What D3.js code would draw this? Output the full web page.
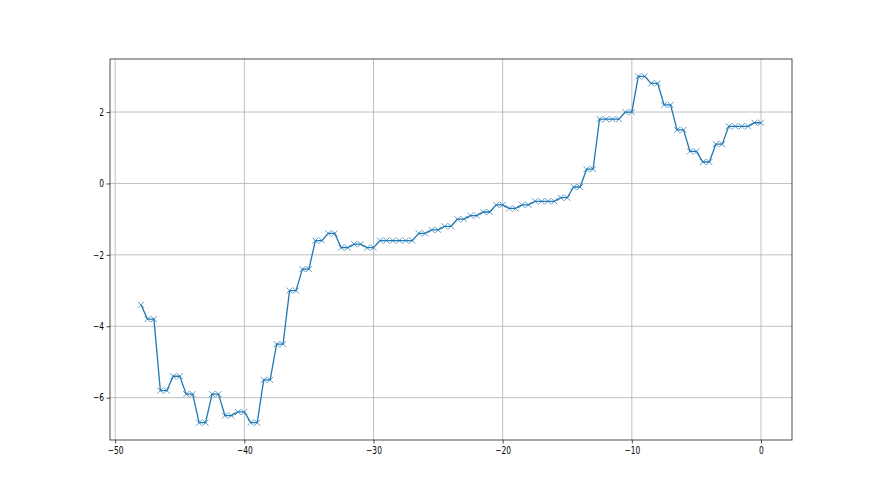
<!DOCTYPE html>
<html>
<head>
<meta charset="utf-8">
<script src="https://cdn.jsdelivr.net/npm/d3@7"></script>
<style>
  html, body { margin: 0; padding: 0; background: #fff; }
  svg { display: block; }
  text { font-family: "DejaVu Sans", sans-serif; font-size: 10px; fill: #000; }
</style>
</head>
<body>
<svg id="chart" width="880" height="495"></svg>
<script>
// Data: first point at x=-48, then pairs of equal values at (k-0.5, k)
const firstX = -48;
const firstValue = -3.4;
const pairEnds = d3.range(-47, 1, 1); // -47 ... 0
const pairValues = [
  -3.8, -5.8, -5.4, -5.9, -6.7, -5.9, -6.5, -6.4, -6.7, -5.5,
  -4.5, -3.0, -2.4, -1.6, -1.4, -1.8, -1.7, -1.8, -1.6, -1.6,
  -1.6, -1.4, -1.3, -1.2, -1.0, -0.9, -0.8, -0.6, -0.7, -0.6,
  -0.5, -0.5, -0.4, -0.1, 0.4, 1.8, 1.8, 2.0, 3.0, 2.8,
  2.2, 1.5, 0.9, 0.6, 1.1, 1.6, 1.6, 1.7
];
const xTicks = [-50, -40, -30, -20, -10, 0];
const yTicks = [-6, -4, -2, 0, 2];

const data = [{x: firstX, y: firstValue}];
pairEnds.forEach((e, i) => {
  data.push({x: e - 0.5, y: pairValues[i]});
  data.push({x: e, y: pairValues[i]});
});

const svg = d3.select("#chart");
const pLeft = 110, pRight = 792, pTop = 59, pBottom = 440;

const xMin = d3.min(data, d => d.x), xMax = d3.max(data, d => d.x);
const yMin = d3.min(data, d => d.y), yMax = d3.max(data, d => d.y);
const xm = (xMax - xMin) * 0.05, ym = (yMax - yMin) * 0.05;

const x = d3.scaleLinear().domain([xMin - xm, xMax + xm]).range([pLeft, pRight]);
const y = d3.scaleLinear().domain([yMin - ym, yMax + ym]).range([pBottom, pTop]);

const fmt = d => (d < 0 ? "\u2212" + Math.abs(d) : String(d));

// grid
const grid = svg.append("g");
grid.selectAll(".gx").data(xTicks).enter().append("line")
  .attr("x1", d => x(d)).attr("x2", d => x(d)).attr("y1", pTop).attr("y2", pBottom)
  .attr("stroke", "#b0b0b0").attr("stroke-width", 0.8);
grid.selectAll(".gy").data(yTicks).enter().append("line")
  .attr("y1", d => y(d)).attr("y2", d => y(d)).attr("x1", pLeft).attr("x2", pRight)
  .attr("stroke", "#b0b0b0").attr("stroke-width", 0.8);

// axes
const xAxis = d3.axisBottom(x).tickValues(xTicks).tickSize(3.5).tickPadding(3.5).tickFormat(fmt);
const yAxis = d3.axisLeft(y).tickValues(yTicks).tickSize(3.5).tickPadding(3.5).tickFormat(fmt);

const gx = svg.append("g").attr("transform", `translate(0,${pBottom})`).call(xAxis);
const gy = svg.append("g").attr("transform", `translate(${pLeft},0)`).call(yAxis);
[gx, gy].forEach(g => {
  g.select(".domain").remove();
  g.selectAll(".tick line").attr("stroke", "#222").attr("stroke-width", 0.8);
  g.selectAll(".tick text").attr("fill", "#222").style("font-family", "DejaVu Sans").style("font-size", "10px");
});
gx.selectAll(".tick text").attr("transform", "scale(0.75,1)");
gy.selectAll(".tick text").attr("transform", "translate(-6,0) scale(0.75,1)").attr("x", 0);

// frame
svg.append("rect").attr("x", pLeft).attr("y", pTop).attr("width", pRight - pLeft).attr("height", pBottom - pTop)
  .attr("fill", "none").attr("stroke", "#222").attr("stroke-width", 0.8);

// line
const line = d3.line().x(d => x(d.x)).y(d => y(d.y));
svg.append("path").datum(data).attr("d", line)
  .attr("fill", "none").attr("stroke", "#1f77b4").attr("stroke-width", 1.3);

// markers
const s = 3;
const mk = svg.append("g");
mk.selectAll("path.m").data(data).enter().append("path")
  .attr("d", d => {
    const cx = x(d.x), cy = y(d.y);
    return `M${cx - s},${cy - s}L${cx + s},${cy + s}M${cx - s},${cy + s}L${cx + s},${cy - s}`;
  })
  .attr("stroke", "#1f77b4").attr("stroke-width", 1).attr("opacity", 0.7);
</script>
</body>
</html>
